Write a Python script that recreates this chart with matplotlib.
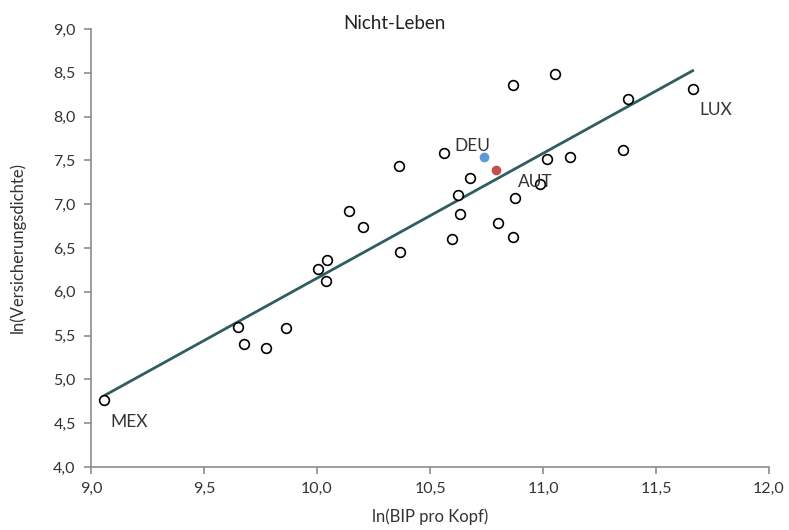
import matplotlib
matplotlib.use("Agg")
import matplotlib.pyplot as plt
import numpy as np

# ln(GDP per capita) vs ln(insurance density), non-life
bip = [9.056, 9.652, 9.678, 9.776, 9.864, 10.006, 10.040, 10.044, 10.143, 10.204,
       10.363, 10.366, 10.563, 10.599, 10.626, 10.631, 10.677, 10.802, 10.866, 10.866,
       10.876, 10.987, 11.016, 11.053, 11.119, 11.355, 11.378, 11.662]
dichte = [4.76, 5.60, 5.40, 5.355, 5.59, 6.264, 6.127, 6.366, 6.919, 6.736,
          7.432, 6.454, 7.588, 6.599, 7.105, 6.885, 7.299, 6.785, 8.364, 6.622,
          7.074, 7.227, 7.519, 8.49, 7.543, 7.619, 8.20, 8.319]
deu = (10.739, 7.538)
aut = (10.791, 7.394)
labels = {"MEX": (9.056, 4.76), "LUX": (11.662, 8.319)}

xticks = [9.0, 9.5, 10.0, 10.5, 11.0, 11.5, 12.0]
yticks = [4.0, 4.5, 5.0, 5.5, 6.0, 6.5, 7.0, 7.5, 8.0, 8.5, 9.0]

plt.rcParams['font.family'] = ['Lato', 'DejaVu Sans']

fig = plt.figure(figsize=(7.89, 5.30), dpi=100)
ax = fig.add_axes([0.1153, 0.1189, 0.8594, 0.8264])

# trend line over all countries
allx = np.array(bip + [deu[0], aut[0]])
ally = np.array(dichte + [deu[1], aut[1]])
k, d = np.polyfit(allx, ally, 1)
lx = np.array([allx.min(), allx.max()])
ax.plot(lx, k * lx + d, color="#2E5E60", lw=2, zorder=1)

ax.plot(bip, dichte, "o", ms=7, mfc="white", mec="black", mew=1.2, zorder=3)
ax.plot(*deu, "o", ms=7, color="#5B9BD5", mec="none", zorder=3)
ax.plot(*aut, "o", ms=7, color="#C0504D", mec="none", zorder=3)

ax.text(deu[0] - 0.13, deu[1] + 0.07, "DEU", fontsize=12.5, color="#333333")
ax.text(aut[0] + 0.1, aut[1] - 0.2, "AUT", fontsize=12.5, color="#333333")
ax.text(labels["MEX"][0] + 0.03, labels["MEX"][1] - 0.3, "MEX", fontsize=12.5, color="#333333")
ax.text(labels["LUX"][0] + 0.03, labels["LUX"][1] - 0.3, "LUX", fontsize=12.5, color="#333333")

ax.set_xlim(9, 12)
ax.set_ylim(4, 9)
ax.set_xticks(xticks)
ax.set_yticks(yticks)
ax.set_xticklabels([f"{t:.1f}".replace(".", ",") for t in xticks])
ax.set_yticklabels([f"{t:.1f}".replace(".", ",") for t in yticks])
ax.tick_params(colors="#8C8C8C", labelcolor="#333333", labelsize=11.5, length=5, width=1.2, pad=6)
for s in ["top", "right"]:
    ax.spines[s].set_visible(False)
for s in ["left", "bottom"]:
    ax.spines[s].set_color("#8C8C8C")
    ax.spines[s].set_linewidth(1.2)
ax.spines["bottom"].set_zorder(0)

ax.set_xlabel("ln(BIP pro Kopf)", fontsize=12, color="#333333", labelpad=9)
ax.set_ylabel("ln(Versicherungsdichte)", fontsize=12, color="#333333", labelpad=20)
fig.text(0.5, 0.955, "Nicht-Leben", ha="center", va="center", fontsize=13.5, color="#222222")

fig.savefig("out.png", dpi=100)
